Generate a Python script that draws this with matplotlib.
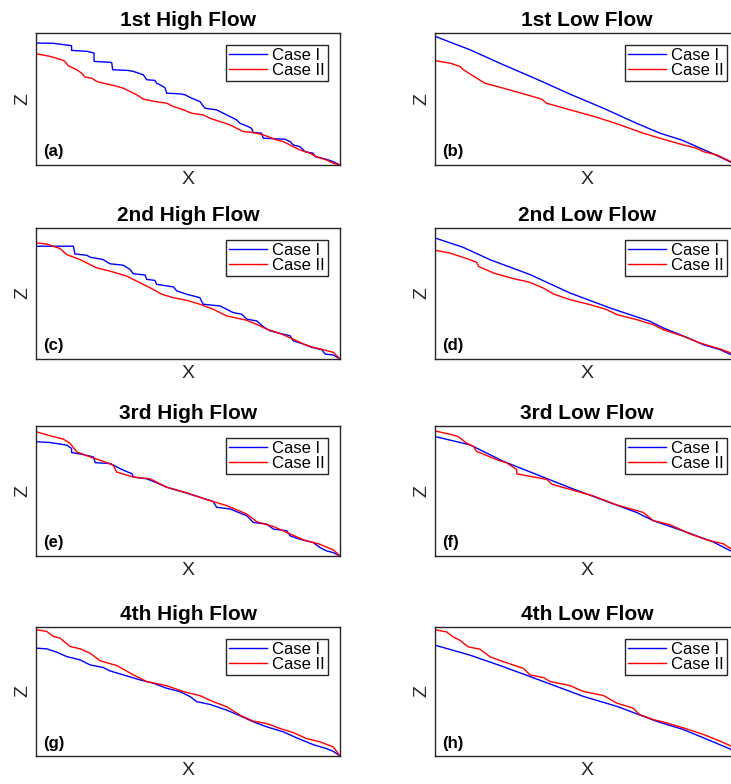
import matplotlib
matplotlib.use('Agg')
import matplotlib.pyplot as plt

plt.rcParams['font.family'] = ['Liberation Sans', 'DejaVu Sans']

# profiles, X and Z both in % of the plotted range
# (a) 1st high flow
a1_x = [0, 5.7, 11.7, 11.7, 16.9, 19.1, 19.1, 24.9, 25.2, 30.4, 32.0, 35.3, 36.4, 39.1, 39.7, 42.4, 43.0, 47.4,
        49.0, 51.2, 53.9, 55.6, 59.4, 61.6, 63.8, 66.0, 67.1, 69.3, 70.9, 71.5, 74.2, 74.8, 81.9, 83.6, 84.6,
        86.8, 88.5, 91.2, 91.8, 95.6, 97.8, 100]
a1_z = [92.4, 92.2, 90.4, 86.8, 86.1, 84.8, 78.5, 77.7, 72.2, 71.6, 70.9, 68.4, 64.6, 64.1, 62.0, 58.7, 54.4, 53.9,
        53.2, 50.6, 48.1, 43.0, 41.8, 39.2, 36.7, 34.2, 31.6, 29.6, 27.8, 24.6, 24.1, 20.3, 19.5, 17.7, 15.2,
        13.9, 10.1, 8.9, 6.3, 4.3, 2.5, 0]
a2_x = [0, 4.6, 8.4, 9.5, 10.6, 13.4, 15.0, 16.1, 18.3, 20.0, 22.1, 26.0, 28.7, 30.9, 33.1, 35.3, 39.1, 43.0, 45.2,
        48.5, 51.2, 55.0, 57.2, 60.5, 63.8, 66.0, 68.2, 71.5, 74.8, 79.2, 81.4, 84.6, 86.8, 90.1, 92.3, 95.6, 97.8,
        100]
a2_z = [84.3, 82.3, 79.7, 78.5, 75.2, 72.2, 69.6, 66.6, 65.8, 63.3, 62.0, 60.0, 58.2, 55.7, 53.2, 49.9, 48.1, 46.8,
        44.3, 41.8, 39.2, 38.0, 35.4, 32.9, 30.4, 27.8, 25.3, 24.6, 22.8, 19.0, 17.7, 13.9, 11.4, 8.9, 6.3, 3.8,
        1.3, 0]

# (b) 1st low flow
b1_x = [0, 11.5, 22.5, 33.4, 44.4, 55.4, 66.3, 74.0, 81.1, 86.1, 91.6, 97.4, 100]
b1_z = [97.5, 87.3, 75.9, 65.1, 53.7, 43.0, 31.6, 24.1, 19.0, 13.9, 8.4, 2.0, 0]
b2_x = [0, 4.9, 8.2, 9.3, 13.7, 16.4, 22.5, 29.1, 35.1, 36.7, 44.4, 53.2, 60.9, 68.5, 75.1, 81.7, 86.1, 88.3,
        92.7, 97.4, 100]
b2_z = [79.0, 77.2, 74.7, 72.2, 65.8, 62.0, 58.2, 53.9, 49.9, 46.8, 41.8, 36.2, 30.4, 24.1, 19.5, 15.2, 12.7, 10.1,
        7.6, 2.5, 0.5]

# (c) 2nd high flow
c1_x = [0, 12.3, 12.8, 16.7, 17.8, 22.1, 24.3, 28.7, 30.9, 32.0, 35.9, 36.4, 39.1, 39.7, 45.2, 46.3, 49.6, 51.8,
        53.9, 55.0, 60.5, 62.7, 64.9, 67.7, 69.3, 72.6, 74.8, 77.0, 80.3, 83.6, 84.6, 88.0, 90.7, 94.0, 95.1,
        97.8, 100]
c1_z = [86.1, 86.1, 80.2, 79.2, 77.7, 75.9, 72.7, 71.6, 68.4, 65.1, 64.1, 60.8, 60.0, 57.0, 55.0, 52.0, 49.4, 48.1,
        46.8, 41.8, 40.5, 38.0, 35.4, 34.2, 30.4, 29.1, 24.6, 21.5, 19.5, 17.7, 13.9, 11.4, 8.9, 7.1, 3.8,
        3.0, 0]
c2_x = [0, 3.5, 7.9, 10.1, 14.5, 19.9, 24.3, 29.8, 34.2, 37.5, 41.4, 45.2, 49.6, 53.9, 58.3, 62.7, 69.3, 73.7,
        75.9, 80.3, 84.6, 88.0, 91.2, 94.5, 97.8, 100]
c2_z = [88.6, 87.8, 84.3, 79.7, 75.9, 69.6, 67.1, 63.3, 58.2, 54.4, 49.4, 46.8, 44.8, 41.8, 38.0, 32.9, 29.6, 25.3,
        22.8, 19.5, 15.2, 11.4, 8.9, 7.1, 5.1, 0]

# (d) 2nd low flow
d1_x = [0, 9.3, 18.1, 31.3, 44.4, 57.6, 70.7, 75.1, 82.8, 88.3, 93.8, 97.4, 100]
d1_z = [92.4, 85.2, 75.8, 64.4, 50.4, 38.9, 28.8, 23.7, 16.5, 10.9, 7.1, 3.3, 0.8]
d2_x = [0, 4.9, 11.5, 13.7, 14.3, 19.3, 25.9, 30.8, 35.6, 39.0, 44.4, 51.0, 56.5, 59.9, 66.4, 71.8, 75.1, 81.7,
        87.2, 93.8, 97.4, 100]
d2_z = [83.0, 80.9, 75.8, 73.8, 70.7, 65.6, 61.3, 58.8, 54.2, 49.6, 45.3, 41.5, 37.7, 33.8, 30.0, 26.2, 22.4, 17.3,
        12.2, 7.6, 4.6, 2.5]

# (e) 3rd high flow
e1_x = [0, 4.6, 10.1, 11.7, 11.7, 15.6, 18.9, 19.5, 24.5, 26.6, 28.8, 31.6, 32.0, 36.4, 39.7, 43.0, 48.5, 53.9,
        58.3, 59.4, 63.8, 69.3, 71.5, 75.9, 78.1, 82.5, 83.6, 86.8, 91.2, 93.4, 95.6, 97.8, 100]
e1_z = [87.9, 87.3, 85.3, 82.7, 79.6, 78.0, 76.2, 71.8, 71.1, 68.5, 65.9, 63.3, 60.7, 59.4, 56.3, 52.9, 49.1, 45.2,
        41.9, 37.5, 36.2, 31.0, 25.8, 24.5, 20.7, 19.4, 15.5, 12.9, 10.3, 6.5, 3.9, 2.6, 0]
e2_x = [0, 4.6, 9.0, 11.2, 13.4, 17.8, 22.1, 25.4, 26.5, 32.0, 37.5, 43.0, 49.6, 56.1, 62.7, 69.3, 72.6, 78.1,
        82.5, 88.0, 93.4, 97.8, 100]
e2_z = [95.6, 92.5, 89.9, 86.6, 80.1, 76.2, 72.9, 69.8, 64.6, 60.7, 59.4, 52.9, 48.6, 43.4, 38.8, 32.3, 26.4, 22.7,
        18.1, 12.4, 9.0, 4.7, 0]

# (f) 3rd low flow
f1_x = [0, 11.5, 22.5, 33.4, 44.4, 55.4, 66.3, 71.8, 82.8, 91.6, 97.4, 100]
f1_z = [91.9, 85.5, 72.8, 62.7, 52.5, 42.9, 33.5, 27.2, 18.3, 10.7, 3.8, 1.5]
f2_x = [0, 4.9, 7.6, 10.4, 12.6, 13.7, 20.3, 23.6, 26.9, 26.9, 36.8, 38.5, 44.4, 52.1, 59.8, 68.5, 71.8, 77.3,
        83.9, 89.4, 94.8, 97.4, 100]
f2_z = [96.2, 93.7, 91.9, 86.8, 84.3, 80.5, 74.1, 71.6, 66.5, 63.2, 58.9, 55.1, 51.3, 46.2, 39.3, 33.5, 27.2, 24.1,
        17.0, 12.4, 9.4, 5.6, 2.5]

# (g) 4th high flow
g1_x = [0, 3.5, 6.8, 10.1, 14.5, 17.8, 22.1, 24.3, 28.7, 34.2, 38.6, 43.0, 47.4, 50.7, 52.9, 57.2, 62.7, 67.1,
        71.5, 75.9, 81.4, 85.8, 91.2, 95.6, 97.8, 100]
g1_z = [83.6, 83.1, 80.5, 77.1, 74.5, 70.6, 68.6, 66.0, 62.9, 59.0, 56.4, 52.5, 49.9, 46.0, 42.1, 40.0, 35.6, 31.2,
        26.5, 22.6, 18.7, 14.0, 8.8, 5.7, 3.6, 0]
g2_x = [0, 3.5, 5.7, 7.9, 11.2, 14.5, 17.8, 21.1, 26.6, 32.0, 36.4, 43.0, 48.5, 53.9, 58.3, 62.7, 67.1, 71.5,
        75.9, 80.3, 84.6, 89.0, 93.4, 97.8, 100]
g2_z = [97.9, 96.6, 92.7, 91.4, 84.9, 83.1, 79.7, 73.8, 70.1, 62.9, 57.7, 54.5, 49.9, 46.8, 42.1, 38.2, 31.7, 27.0,
        25.2, 21.3, 18.2, 13.5, 11.0, 7.0, 0]

# (h) 4th low flow
h1_x = [0, 11.5, 22.5, 33.4, 48.8, 59.8, 72.9, 81.7, 88.3, 97.4, 100]
h1_z = [85.9, 78.2, 69.2, 59.7, 46.2, 38.5, 26.9, 20.5, 14.1, 5.1, 3.0]
h2_x = [0, 3.8, 6.0, 8.2, 10.9, 14.8, 18.1, 22.5, 29.1, 31.3, 35.7, 37.9, 44.4, 48.8, 55.4, 59.8, 65.1, 67.3,
        71.8, 75.1, 81.7, 88.3, 93.8, 97.4, 100]
h2_z = [97.9, 96.2, 92.3, 89.7, 84.6, 82.8, 76.9, 73.1, 67.9, 62.8, 60.8, 57.7, 54.6, 50.0, 46.9, 41.0, 37.2, 32.1,
        28.2, 26.4, 21.8, 16.7, 11.5, 7.7, 5.5]

titles = ['1st High Flow', '1st Low Flow', '2nd High Flow', '2nd Low Flow',
          '3rd High Flow', '3rd Low Flow', '4th High Flow', '4th Low Flow']
letters = ['(a)', '(b)', '(c)', '(d)', '(e)', '(f)', '(g)', '(h)']
case1 = [(a1_x, a1_z), (b1_x, b1_z), (c1_x, c1_z), (d1_x, d1_z),
         (e1_x, e1_z), (f1_x, f1_z), (g1_x, g1_z), (h1_x, h1_z)]
case2 = [(a2_x, a2_z), (b2_x, b2_z), (c2_x, c2_z), (d2_x, d2_z),
         (e2_x, e2_z), (f2_x, f2_z), (g2_x, g2_z), (h2_x, h2_z)]

W, H = 731, 784
# axes boxes in pixels (right column runs off the edge like the original)
col_x = [(36, 340), (435, 739)]
row_y = [(33, 165), (228, 359), (426, 556), (627, 756)]

fig = plt.figure(figsize=(W / 100, H / 100), dpi=100)
edge = '#262626'

for i in range(8):
    r, c = divmod(i, 2)
    x0, x1 = col_x[c]
    y0, y1 = row_y[r]
    ax = fig.add_axes([x0 / W, 1 - y1 / H, (x1 - x0) / W, (y1 - y0) / H])
    ax.plot(*case1[i], color='#0000ff', lw=1.0, label='Case I')
    ax.plot(*case2[i], color='#ff0000', lw=1.0, label='Case II')
    ax.set_xlim(0, 100)
    ax.set_ylim(0, 100)
    ax.set_xticks([])
    ax.set_yticks([])
    for s in ax.spines.values():
        s.set_color(edge)
        s.set_linewidth(1.0)
    ax.set_title(titles[i], fontsize=15, fontweight='bold', pad=5)
    ax.set_xlabel('X', fontsize=14, color=edge, labelpad=4)
    ax.set_ylabel('Z', fontsize=14, color=edge, labelpad=3)
    ax.text(0.023, 0.1, letters[i], transform=ax.transAxes, fontsize=12,
            fontweight='bold', va='center', ha='left')
    leg = ax.legend(loc='upper right', fontsize=12, fancybox=False, framealpha=1,
                    edgecolor=edge, handlelength=2.3, handletextpad=0.3,
                    labelspacing=0.0, borderpad=0.2, borderaxespad=0.7)
    leg.get_frame().set_linewidth(1.0)

plt.savefig('out.png', dpi=100)
plt.close()
